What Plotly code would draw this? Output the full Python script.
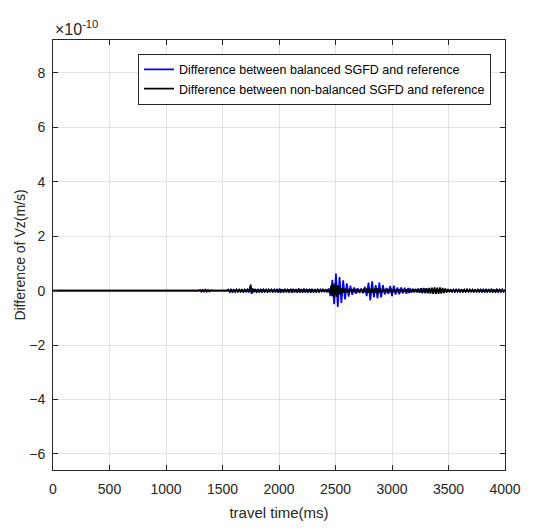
import plotly.graph_objects as go

SCALE_LABEL = "×10<sup>-10</sup>"

# travel time (ms) and difference of Vz (in units of 1e-10 m/s)
t_balanced = [0, 1290,
    1300, 1312, 1324, 1336, 1348, 1360, 1372, 1384, 1396, 1410,
    1540, 1552, 1564, 1576, 1588, 1600, 1612, 1624, 1636, 1648, 1660, 1672, 1684, 1696, 1708, 1720,
    1732, 1744, 1756, 1768, 1780, 1792, 1804, 1816, 1828, 1840, 1852, 1864, 1876, 1888, 1900, 1912,
    1924, 1936, 1948, 1960, 1972, 1984, 1996, 2008, 2020, 2032, 2044, 2056, 2068, 2080, 2092, 2104,
    2116, 2128, 2140, 2152, 2164, 2176, 2188, 2200, 2212, 2224, 2236, 2248, 2260, 2272, 2284, 2296,
    2308, 2320, 2332, 2344, 2356, 2368, 2380, 2392, 2404, 2416, 2428,
    2440, 2456, 2472, 2488, 2504, 2520, 2536, 2552, 2568, 2584, 2600, 2616, 2632, 2648, 2664, 2680,
    2696, 2712, 2728, 2744, 2760, 2776, 2792, 2808, 2824, 2840, 2856, 2872, 2888, 2904, 2920, 2936,
    2952, 2968, 2984, 3000, 3016, 3032, 3048, 3064, 3080, 3096, 3112, 3128, 3144, 3152,
    3160, 3172, 3184, 3196, 3208, 3220, 3232, 3244, 3256,
    3268, 3280, 3292, 3304, 3316, 3328, 3340, 3352, 3364, 3376, 3388, 3400, 3412, 3424, 3436, 3448,
    3460, 3472, 3484, 3496, 3508, 3520, 3532, 3544, 3556, 3568, 3580, 3592, 3604, 3616, 3628, 3640,
    3652, 3664, 3676, 3688, 3700, 3712, 3724, 3736, 3748, 3760, 3772, 3784, 3796, 3808, 3820, 3832,
    3844, 3856, 3868, 3880, 3892, 3904, 3916, 3928, 3940, 3952, 3964, 3976, 3988, 4000]
v_balanced = [0, 0,
    0.03, -0.04, 0.05, -0.05, 0.04, -0.04, 0.03, -0.03, 0.02, 0,
    0, 0.04, -0.06, 0.05, -0.06, 0.05, -0.04, 0.04, -0.05, 0.05, -0.04, 0.05, -0.05, 0.04, -0.05, 0.06,
    -0.06, 0.08, -0.07, 0.06, -0.05, 0.05, -0.04, 0.04, -0.05, 0.05, -0.04, 0.04, -0.03, 0.04, -0.04, 0.03,
    -0.03, 0.03, -0.03, 0.04, -0.05, 0.07, -0.08, 0.07, -0.06, 0.05, -0.05, 0.06, -0.05, 0.05, -0.06, 0.07,
    -0.06, 0.05, -0.05, 0.06, -0.07, 0.08, -0.07, 0.06, -0.06, 0.07, -0.06, 0.05, -0.06, 0.07, -0.06, 0.05,
    -0.05, 0.06, -0.05, 0.04, -0.04, 0.04, -0.03, 0.03, -0.03, 0.03, -0.04,
    0.08, -0.2, 0.4, -0.5, 0.63, -0.6, 0.5, -0.45, 0.38, -0.32, 0.27, -0.22, 0.18, -0.15, 0.12, -0.11,
    0.09, -0.08, 0.08, -0.1, 0.14, -0.2, 0.3, -0.36, 0.34, -0.25, 0.2, -0.28, 0.3, -0.25, 0.2, -0.14,
    0.1, -0.12, 0.17, -0.2, 0.18, -0.14, 0.12, -0.13, 0.12, -0.1, 0.11, -0.11, 0.1, -0.09,
    0.08, -0.07, 0.07, -0.06, 0.06, -0.06, 0.07, -0.08, 0.09,
    -0.1, 0.1, -0.09, 0.08, -0.08, 0.07, -0.07, 0.06, -0.06, 0.06, -0.05, 0.05, -0.05, 0.04, -0.04, 0.04,
    -0.03, 0.03, -0.03, 0.03, -0.03, 0.03, -0.03, 0.03, -0.04, 0.04, -0.03, 0.03, -0.03, 0.03, -0.03, 0.03,
    -0.04, 0.04, -0.03, 0.03, -0.03, 0.03, -0.03, 0.03, -0.03, 0.03, -0.04, 0.04, -0.03, 0.03, -0.04, 0.05,
    -0.05, 0.06, -0.06, 0.06, -0.05, 0.05, -0.05, 0.04, -0.04, 0.05, -0.05, 0.04, -0.04, 0.03]

t_nonbalanced = [0, 1540,
    1552, 1564, 1576, 1588, 1600, 1612, 1624, 1636, 1648, 1660, 1672, 1684, 1696, 1708, 1720, 1732,
    1742, 1750, 1758, 1766, 1776, 1788, 1800, 1812, 1824, 1836, 1848, 1860, 1872, 1884, 1896, 1908,
    1920, 1932, 1944, 1956, 1968, 1980, 1992, 2004, 2016, 2028, 2040, 2052, 2064, 2076, 2088, 2100,
    2112, 2124, 2136, 2148, 2160, 2172, 2184, 2196, 2208, 2220, 2232, 2244, 2256, 2268, 2280, 2292,
    2304, 2316, 2328, 2340, 2352, 2364, 2376, 2388, 2400, 2412, 2424, 2436,
    2450, 2460, 2470, 2480, 2490, 2500, 2510, 2520, 2530, 2540, 2550, 2560, 2572, 2584, 2596, 2608,
    2620, 2632, 2644, 2656, 2668, 2680, 2692, 2704, 2716, 2728, 2740, 2752, 2764, 2776, 2788, 2800,
    2812, 2824, 2836, 2848, 2860, 2872, 2884, 2896, 2908, 2920, 2932, 2944, 2956, 2968, 2980, 2992,
    3004, 3016, 3028, 3040, 3052, 3064, 3076, 3088, 3100, 3112, 3124, 3136, 3148, 3160, 3172, 3184,
    3196, 3208, 3220, 3232, 3244, 3256, 3268, 3280, 3292, 3304, 3316, 3328, 3340, 3352, 3364, 3376,
    3388, 3400, 3412, 3424, 3436, 3448, 3460, 3472, 3484, 3496, 3508, 3520, 3532, 3544, 3556, 3568,
    3580, 3592, 3604, 3616, 3628, 3640, 3652, 3664, 3676, 3688, 3700, 3712, 3724, 3736, 3748, 3760,
    3772, 3784, 3796, 3808, 3820, 3832, 3844, 3856, 3868, 3880, 3892, 3904, 3916, 3928, 3940, 3952,
    3964, 3976, 3988, 4000]
v_nonbalanced = [0, 0,
    0.03, -0.04, 0.04, -0.04, 0.03, -0.04, 0.04, -0.03, 0.04, -0.04, 0.03, -0.04, 0.04, -0.03, 0.04, -0.05,
    0.1, 0.22, -0.12, 0.08, -0.05, 0.04, -0.04, 0.05, -0.04, 0.04, -0.05, 0.04, -0.04, 0.03, -0.04, 0.04,
    -0.03, 0.04, -0.04, 0.03, -0.04, 0.05, -0.05, 0.04, -0.04, 0.05, -0.04, 0.04, -0.05, 0.04, -0.04, 0.05,
    -0.04, 0.04, -0.05, 0.05, -0.04, 0.04, -0.05, 0.05, -0.04, 0.04, -0.05, 0.04, -0.04, 0.05, -0.04, 0.04,
    -0.04, 0.05, -0.04, 0.04, -0.04, 0.03, -0.03, 0.04, -0.03, 0.03, -0.04, 0.05,
    -0.1, 0.18, -0.2, 0.25, -0.25, 0.28, -0.22, 0.2, -0.15, 0.12, -0.1, 0.1, -0.08, 0.08, -0.07, 0.07,
    -0.07, 0.06, -0.06, 0.06, -0.06, 0.06, -0.05, 0.05, -0.06, 0.06, -0.06, 0.07, -0.07, 0.08, -0.08, 0.1,
    -0.1, 0.09, -0.09, 0.08, -0.08, 0.09, -0.09, 0.08, -0.07, 0.07, -0.06, 0.06, -0.06, 0.06, -0.06, 0.07,
    -0.07, 0.06, -0.06, 0.06, -0.05, 0.05, -0.06, 0.06, -0.05, 0.05, -0.05, 0.06, -0.06, 0.05, -0.05, 0.06,
    -0.06, 0.06, -0.06, 0.07, -0.07, 0.08, -0.08, 0.08, -0.09, 0.09, -0.1, 0.1, -0.11, 0.11, -0.12, 0.12,
    -0.12, 0.11, -0.12, 0.12, -0.11, 0.1, -0.09, 0.08, -0.07, 0.06, -0.05, 0.05, -0.05, 0.04, -0.04, 0.05,
    -0.04, 0.04, -0.04, 0.05, -0.04, 0.04, -0.05, 0.04, -0.04, 0.04, -0.05, 0.04, -0.04, 0.05, -0.04, 0.04,
    -0.05, 0.05, -0.04, 0.04, -0.05, 0.04, -0.04, 0.05, -0.05, 0.04, -0.04, 0.05, -0.04, 0.04, -0.05, 0.04,
    -0.04, 0.04, -0.03, 0.03]

x_ticks = [0, 500, 1000, 1500, 2000, 2500, 3000, 3500, 4000]
y_ticks = [-6, -4, -2, 0, 2, 4, 6, 8]

FONT = "Liberation Sans, Arial, sans-serif"
AXC = "#262626"

fig = go.Figure()
fig.add_trace(go.Scatter(x=t_balanced, y=v_balanced, mode="lines",
                         line=dict(color="#0000ff", width=1.7),
                         name="Difference between balanced SGFD and reference"))
fig.add_trace(go.Scatter(x=t_nonbalanced, y=v_nonbalanced, mode="lines",
                         line=dict(color="#000000", width=1.7),
                         name="Difference between non-balanced SGFD and reference"))

axis_common = dict(showline=True, linecolor=AXC, linewidth=1, mirror="ticks",
                   ticks="inside", ticklen=5, tickcolor=AXC,
                   showgrid=True, gridcolor="#e3e3e3", gridwidth=1, zeroline=False,
                   tickfont=dict(family=FONT, size=14, color=AXC))

fig.update_layout(
    width=533, height=530,
    margin=dict(l=53, r=26, t=40, b=59),
    plot_bgcolor="white", paper_bgcolor="white",
    font=dict(family=FONT, color=AXC),
    xaxis=dict(range=[0, 4000], tickvals=x_ticks, ticklabelstandoff=6,
               title=dict(text="travel time(ms)", font=dict(family=FONT, size=15, color=AXC), standoff=11),
               **axis_common),
    yaxis=dict(range=[-6.59, 9.21], tickvals=y_ticks, ticklabelstandoff=4,
               title=dict(text="Difference of Vz(m/s)", font=dict(family=FONT, size=14, color=AXC), standoff=0),
               **axis_common),
    legend=dict(x=0.969, y=0.968, xanchor="right", yanchor="top",
                bgcolor="white", bordercolor=AXC, borderwidth=1,
                font=dict(family=FONT, size=12.5, color="#000000"),
                tracegroupgap=0, itemwidth=30),
    showlegend=True,
)
fig.add_annotation(text=SCALE_LABEL, xref="paper", yref="paper", x=0, y=1,
                   xanchor="left", yanchor="bottom", showarrow=False,
                   font=dict(family=FONT, size=16, color=AXC), yshift=0)

fig.write_html("out.html")
